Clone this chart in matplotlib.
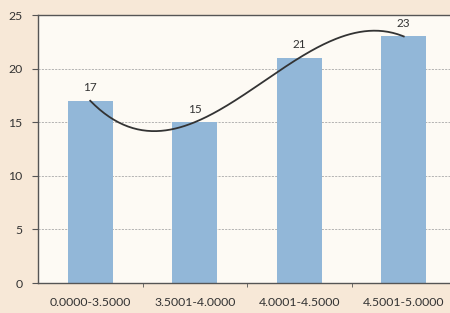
import matplotlib
matplotlib.use("Agg")
import matplotlib.pyplot as plt
import numpy as np

categories = ["0.0000-3.5000", "3.5001-4.0000", "4.0001-4.5000", "4.5001-5.0000"]
values = [17, 15, 21, 23]
yticks = [0, 5, 10, 15, 20, 25]

plt.rcParams['font.family'] = ['Lato', 'DejaVu Sans']

fig = plt.figure(figsize=(4.5, 3.13), dpi=100)
fig.patch.set_facecolor('#f7e8d7')
ax = fig.add_axes([38/450, 30/313, 418/450, 268/313])
ax.set_facecolor('#fdfaf4')

x = np.arange(len(categories))
ax.bar(x, values, width=0.43, color='#92b7d8', zorder=2)

for xi, v in zip(x, values):
    ax.text(xi, v + 0.7, str(v), ha='center', va='bottom', fontsize=8.5, color='#333333', zorder=4)

# cubic polynomial trendline through the data
coef = np.polyfit(x, values, 3)
xs = np.linspace(x[0], x[-1], 200)
ax.plot(xs, np.polyval(coef, xs), color='#333333', lw=1.3, zorder=3)

ax.set_xlim(-0.5, 3.5)
ax.set_ylim(0, 25)
ax.set_yticks(yticks)
ax.set_xticks(x)
ax.set_xticklabels(categories)
ax.set_xticks([0.5, 1.5, 2.5], minor=True)
ax.tick_params(axis='x', which='major', length=0, pad=10, labelsize=8.8, labelcolor='#333333')
ax.tick_params(axis='x', which='minor', length=3, color='#555555', direction='out')
ax.tick_params(axis='y', length=4, pad=7, labelsize=8.8, labelcolor='#333333', color='#555555')

ax.yaxis.grid(True, linestyle=(0, (2.5, 1.5)), color='#a8a8a8', lw=0.6, zorder=1)
for side in ['left', 'bottom', 'top']:
    ax.spines[side].set_color('#555555')
    ax.spines[side].set_linewidth(1.0)
ax.spines['right'].set_visible(False)

fig.savefig('out.png', dpi=100, facecolor=fig.get_facecolor())
